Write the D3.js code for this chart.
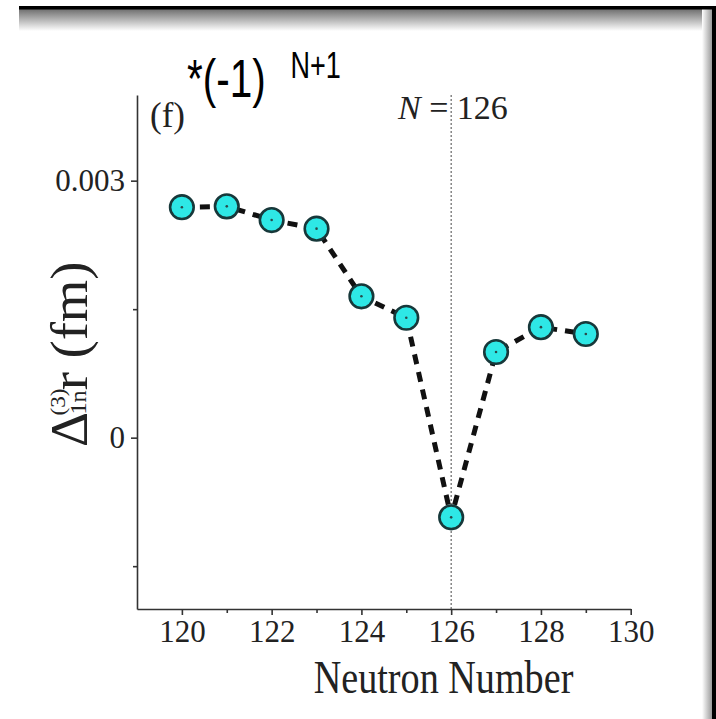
<!DOCTYPE html>
<html>
<head>
<meta charset="utf-8">
<script src="https://cdn.jsdelivr.net/npm/d3@7"></script>
<style>
    body { margin: 0; background: #fff; }
    svg { display: block; }
    .axis path, .axis line { stroke: #333; stroke-width: 1.6; }
    .axis text { font-family: "Liberation Serif", "Times New Roman", serif; fill: #222; }
</style>
</head>
<body>
<script>
    // data
    var neutrons = [120, 121, 122, 123, 124, 125, 126, 127, 128, 129];
    var deltaR = [0.00269, 0.00270, 0.00254, 0.00244, 0.00165, 0.00140, -0.00093, 0.00100, 0.00129, 0.00121];
    var xMajorTicks = [120, 122, 124, 126, 128, 130];
    var xMinorTicks = [121, 123, 125, 127, 129];
    var yMajorTicks = [0, 0.003];
    var yMinorTicks = [-0.0015, 0.0015];
    var magicN = 126;

    var W = 716, H = 719;
    var svg = d3.select('body').append('svg')
        .attr('width', W)
        .attr('height', H);

    // frame: black top/right edges with soft shadow
    var defs = svg.append('defs');
    var gTop = defs.append('linearGradient').attr('id', 'shadeTop')
        .attr('x1', 0).attr('y1', 0).attr('x2', 0).attr('y2', 1);
    gTop.append('stop').attr('offset', '0%').attr('stop-color', '#6e6e6e');
    gTop.append('stop').attr('offset', '100%').attr('stop-color', '#fff');
    var gRight = defs.append('linearGradient').attr('id', 'shadeRight')
        .attr('x1', 1).attr('y1', 0).attr('x2', 0).attr('y2', 0);
    gRight.append('stop').attr('offset', '0%').attr('stop-color', '#9a9a9a');
    gRight.append('stop').attr('offset', '100%').attr('stop-color', '#fff');

    svg.append('rect').attr('x', 19).attr('y', 9).attr('width', W - 19).attr('height', 22).attr('fill', 'url(#shadeTop)');
    svg.append('rect').attr('x', 702).attr('y', 9).attr('width', 10).attr('height', H - 9).attr('fill', 'url(#shadeRight)');
    svg.append('rect').attr('x', 19).attr('y', 6).attr('width', W - 19).attr('height', 3.5).attr('fill', '#000');
    svg.append('rect').attr('x', 712).attr('y', 6).attr('width', 4).attr('height', H - 6).attr('fill', '#000');

    var x = d3.scaleLinear().domain([119, 130]).range([137, 630.7]);
    var y = d3.scaleLinear().domain([-0.002, 0.004]).range([609, 95]);

    // reference line at the magic number
    svg.append('line')
        .attr('x1', x(magicN)).attr('x2', x(magicN))
        .attr('y1', y(0.004)).attr('y2', y(-0.002))
        .attr('stroke', '#666').attr('stroke-width', 1.2)
        .attr('stroke-dasharray', '2,2');

    // axes
    var xAxis = svg.append('g').attr('class', 'axis')
        .attr('transform', 'translate(0,' + y(-0.002) + ')')
        .call(d3.axisBottom(x).tickValues(xMajorTicks).tickSize(6).tickSizeOuter(0).tickPadding(5).tickFormat(d3.format('d')));
    xAxis.selectAll('text').attr('font-size', 31);
    svg.append('g').attr('class', 'axis')
        .attr('transform', 'translate(0,' + y(-0.002) + ')')
        .call(d3.axisBottom(x).tickValues(xMinorTicks).tickSize(4).tickSizeOuter(0).tickFormat(''))
        .select('.domain').remove();

    var yAxis = svg.append('g').attr('class', 'axis')
        .attr('transform', 'translate(' + x(119) + ',0)')
        .call(d3.axisLeft(y).tickValues(yMajorTicks).tickSize(6).tickSizeOuter(0).tickPadding(6)
            .tickFormat(function(d) { return d === 0 ? '0' : d3.format('.3f')(d); }));
    yAxis.selectAll('text').attr('font-size', 31);
    svg.append('g').attr('class', 'axis')
        .attr('transform', 'translate(' + x(119) + ',0)')
        .call(d3.axisLeft(y).tickValues(yMinorTicks).tickSize(4).tickSizeOuter(0).tickFormat(''))
        .select('.domain').remove();

    // dashed connecting line
    var pts = neutrons.map(function(n, i) { return [n, deltaR[i]]; });
    var line = d3.line()
        .x(function(d) { return x(d[0]); })
        .y(function(d) { return y(d[1]); });
    svg.append('path')
        .datum(pts)
        .attr('d', line)
        .attr('fill', 'none')
        .attr('stroke', '#111')
        .attr('stroke-width', 5)
        .attr('stroke-dasharray', '10,8');

    // markers
    var dots = svg.selectAll('g.pt').data(pts).enter().append('g').attr('class', 'pt');
    dots.append('circle')
        .attr('cx', function(d) { return x(d[0]); })
        .attr('cy', function(d) { return y(d[1]); })
        .attr('r', 11.8)
        .attr('fill', '#2ee8e6')
        .attr('stroke', '#17383a')
        .attr('stroke-width', 2.6);
    dots.append('circle')
        .attr('cx', function(d) { return x(d[0]); })
        .attr('cy', function(d) { return y(d[1]); })
        .attr('r', 1.3)
        .attr('fill', '#2a4a4a');

    var serif = '"Liberation Serif", "Times New Roman", serif';

    // x axis title (glyphs are a bit taller than wide in the source)
    svg.append('text')
        .attr('transform', 'translate(443.5,693) scale(0.83,1)')
        .attr('text-anchor', 'middle')
        .attr('font-family', serif).attr('font-size', 46).attr('fill', '#222')
        .text('Neutron Number');

    // y axis title, rotated and stretched along its length
    var yt = svg.append('text')
        .attr('transform', 'translate(87,447) rotate(-90) scale(1.05,1)')
        .attr('font-family', serif).attr('fill', '#222');
    yt.append('tspan').attr('x', 0).attr('y', 0).attr('font-size', 52).text('\u0394');
    yt.append('tspan').attr('x', 30).attr('y', -22).attr('font-size', 22).text('(3)');
    yt.append('tspan').attr('x', 31).attr('y', -1).attr('font-size', 23).text('1n');
    yt.append('tspan').attr('x', 54).attr('y', 0).attr('font-size', 52).text('r (fm)');

    // panel label and annotation
    svg.append('text')
        .attr('x', 150).attr('y', 127)
        .attr('font-family', serif).attr('font-size', 35).attr('fill', '#222')
        .text('(f)');
    var nt = svg.append('text')
        .attr('x', 398).attr('y', 119)
        .attr('font-family', serif).attr('font-size', 34).attr('fill', '#222');
    nt.append('tspan').attr('font-style', 'italic').text('N');
    nt.append('tspan').text(' = ' + magicN);

    // the *(-1)^(N+1) note, narrow sans glyphs
    var ft = svg.append('text')
        .attr('transform', 'translate(187,97) scale(0.75,1)')
        .attr('font-family', '"Liberation Sans", Arial, sans-serif').attr('fill', '#000');
    ft.append('tspan').attr('x', 0).attr('y', 0).attr('font-size', 54).text('*(-1)');
    ft.append('tspan').attr('x', 138).attr('y', -19).attr('font-size', 36).text('N+1');
</script>
</body>
</html>
